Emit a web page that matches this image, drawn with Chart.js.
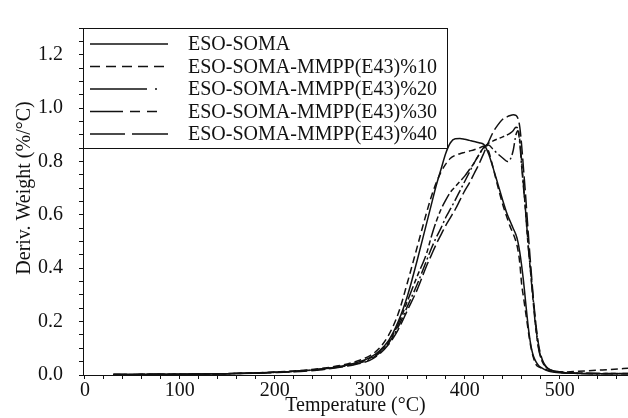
<!DOCTYPE html>
<html>
<head>
<meta charset="utf-8">
<script src="https://cdn.jsdelivr.net/npm/chart.js@4/dist/chart.umd.min.js"></script>
<style>
  html, body { margin: 0; padding: 0; background: #fff; }
  #wrap { width: 628px; height: 418px; position: relative; }
</style>
</head>
<body>
<div id="wrap"><canvas id="dtgChart"></canvas></div>
<script>
// temperaturas (°C)
const temps = [30, 100, 150, 200, 250, 280, 300,
  310, 320, 330, 340, 350, 360,
  365, 370, 375, 380, 385, 390, 395, 400,
  405, 410, 415, 420, 425, 430, 435, 440, 445,
  448, 451, 454, 456, 458, 460, 462, 464, 466, 468, 470, 472,
  475, 478, 482, 486, 490, 500, 520, 545, 572];

// DTG (%/°C)
const esoSoma = [0.002, 0.003, 0.005, 0.01, 0.022, 0.04, 0.065,
  0.09, 0.13, 0.2, 0.3, 0.43, 0.57,
  0.64, 0.71, 0.77, 0.83, 0.87, 0.885, 0.886, 0.883,
  0.879, 0.875, 0.87, 0.864, 0.83, 0.775, 0.715, 0.655, 0.6,
  0.575, 0.55, 0.525, 0.5, 0.46, 0.41, 0.35, 0.28, 0.21, 0.15, 0.105, 0.075,
  0.05, 0.035, 0.025, 0.018, 0.013, 0.008, 0.006, 0.005, 0.005];

const mmpp10 = [0.002, 0.003, 0.005, 0.011, 0.025, 0.045, 0.072,
  0.1, 0.15, 0.23, 0.35, 0.48, 0.61,
  0.67, 0.72, 0.76, 0.79, 0.812, 0.823, 0.829, 0.834,
  0.839, 0.844, 0.85, 0.857, 0.84, 0.775, 0.705, 0.64, 0.585,
  0.555, 0.53, 0.5, 0.47, 0.42, 0.34, 0.29, 0.24, 0.19, 0.14, 0.1, 0.07,
  0.04, 0.03, 0.025, 0.02, 0.016, 0.011, 0.014, 0.019, 0.025];

const mmpp20 = [0.002, 0.003, 0.005, 0.01, 0.022, 0.038, 0.058,
  0.082, 0.12, 0.18, 0.26, 0.34, 0.43,
  0.475, 0.515, 0.55, 0.59, 0.622, 0.655, 0.69, 0.725,
  0.76, 0.795, 0.825, 0.85, 0.862, 0.845, 0.828, 0.813, 0.8,
  0.808, 0.84, 0.9, 0.915, 0.87, 0.78, 0.7, 0.62, 0.53, 0.44, 0.37, 0.29,
  0.18, 0.1, 0.05, 0.03, 0.02, 0.01, 0.006, 0.005, 0.005];

const mmpp30 = [0.002, 0.003, 0.005, 0.01, 0.023, 0.04, 0.062,
  0.086, 0.125, 0.19, 0.28, 0.37, 0.457,
  0.52, 0.575, 0.62, 0.655, 0.685, 0.705, 0.725, 0.745,
  0.77, 0.795, 0.825, 0.852, 0.868, 0.877, 0.885, 0.892, 0.9,
  0.906, 0.915, 0.928, 0.925, 0.88, 0.8, 0.71, 0.62, 0.52, 0.44, 0.36, 0.28,
  0.17, 0.095, 0.048, 0.028, 0.019, 0.01, 0.007, 0.006, 0.006];

const mmpp40 = [0.002, 0.003, 0.005, 0.009, 0.02, 0.036, 0.055,
  0.078, 0.115, 0.17, 0.245, 0.32, 0.41,
  0.45, 0.49, 0.525, 0.56, 0.59, 0.62, 0.655, 0.69,
  0.72, 0.755, 0.79, 0.83, 0.872, 0.91, 0.937, 0.958, 0.968,
  0.972, 0.975, 0.973, 0.962, 0.93, 0.86, 0.77, 0.68, 0.58, 0.48, 0.39, 0.3,
  0.19, 0.11, 0.055, 0.03, 0.02, 0.012, 0.007, 0.006, 0.006];

const seriesNames = ['ESO-SOMA', 'ESO-SOMA-MMPP(E43)%10', 'ESO-SOMA-MMPP(E43)%20',
  'ESO-SOMA-MMPP(E43)%30', 'ESO-SOMA-MMPP(E43)%40'];
const seriesValues = [esoSoma, mmpp10, mmpp20, mmpp30, mmpp40];

// marcas de los ejes (menores cada 20 °C y cada 0.05)
const xTickValues = Array.from({ length: 29 }, (_, i) => i * 20);
const yTickValues = Array.from({ length: 27 }, (_, i) => Math.round(i * 5) / 100);

// estilos de linea
const plotDash = [[], [7, 4], [12, 3, 2, 3], [14, 3, 5, 3, 5, 3], [14, 4]];
const legendDash = [[], [10, 6], [57, 8, 2, 30], [33, 7, 10, 7, 10, 30], [35, 7, 40]];

const FONT = "'Liberation Serif', 'DejaVu Serif', serif";
const INK = '#111';

const datasets = seriesNames.map((name, i) => ({
  label: name,
  data: temps.map((t, k) => ({ x: t, y: seriesValues[i][k] })),
  borderColor: INK,
  borderWidth: 1.5,
  borderDash: plotDash[i],
  pointRadius: 0,
  fill: false,
  cubicInterpolationMode: 'monotone'
}));

// leyenda con caja dentro del area del grafico
const boxLegend = {
  id: 'boxLegend',
  afterDatasetsDraw(chart) {
    const ctx = chart.ctx;
    const a = chart.chartArea;
    const x0 = a.left, y0 = a.top, w = 364, h = 120;
    ctx.save();
    ctx.fillStyle = '#fff';
    ctx.fillRect(x0, y0, w, h);
    ctx.strokeStyle = INK;
    ctx.lineWidth = 1;
    ctx.strokeRect(x0 + 0.5, y0 + 0.5, w, h);
    ctx.font = '20px ' + FONT;
    ctx.fillStyle = INK;
    ctx.textBaseline = 'middle';
    chart.data.datasets.forEach((ds, i) => {
      const y = y0 + 16 + i * 22.5;
      ctx.beginPath();
      ctx.setLineDash(legendDash[i]);
      ctx.lineWidth = 1.5;
      ctx.moveTo(x0 + 7, y);
      ctx.lineTo(x0 + 85, y);
      ctx.stroke();
      ctx.setLineDash([]);
      ctx.fillText(ds.label, x0 + 105, y + 1);
    });
    ctx.restore();
  }
};

// titulo del eje Y
const yTitle = {
  id: 'yTitle',
  afterDraw(chart) {
    const ctx = chart.ctx;
    ctx.save();
    ctx.translate(25, 188);
    ctx.rotate(-Math.PI / 2);
    ctx.font = '20px ' + FONT;
    ctx.fillStyle = INK;
    ctx.textAlign = 'center';
    ctx.textBaseline = 'middle';
    ctx.fillText('Deriv. Weight (%/°C)', 0, 0);
    ctx.restore();
  }
};

new Chart(document.getElementById('dtgChart'), {
  type: 'line',
  data: { datasets: datasets },
  plugins: [boxLegend, yTitle],
  options: {
    responsive: true,
    maintainAspectRatio: false,
    animation: false,
    layout: { padding: { top: 12, right: 0, left: 0, bottom: 0 } },
    plugins: {
      legend: { display: false },
      tooltip: { enabled: false }
    },
    scales: {
      x: {
        type: 'linear',
        min: -2,
        max: 572,
        afterBuildTicks: (scale) => {
          scale.ticks = xTickValues.map(v => ({ value: v }));
        },
        afterFit: (scale) => { scale.height = 43; },
        ticks: {
          autoSkip: false,
          maxRotation: 0,
          padding: 0,
          color: INK,
          font: { family: FONT, size: 20 },
          callback: (v) => (Math.round(v) % 100 === 0 ? String(Math.round(v)) : '')
        },
        grid: { drawOnChartArea: false, drawTicks: true, tickLength: 4, tickColor: INK },
        border: { color: INK, width: 1 },
        title: {
          display: true,
          text: 'Temperature (°C)',
          color: INK,
          font: { family: FONT, size: 20 },
          padding: { top: -6, bottom: 0 }
        }
      },
      y: {
        min: 0,
        max: 1.3,
        afterFit: (scale) => { scale.width = 83; },
        afterBuildTicks: (scale) => {
          scale.ticks = yTickValues.map(v => ({ value: v }));
        },
        ticks: {
          autoSkip: false,
          padding: 16,
          color: INK,
          font: { family: FONT, size: 20 },
          callback: (v) => {
            const k = v / 0.2;
            return Math.abs(k - Math.round(k)) < 1e-6 ? v.toFixed(1) : '';
          }
        },
        grid: { drawOnChartArea: false, drawTicks: true, tickLength: 4, tickColor: INK },
        border: { color: INK, width: 1 }
      }
    }
  }
});
</script>
</body>
</html>
